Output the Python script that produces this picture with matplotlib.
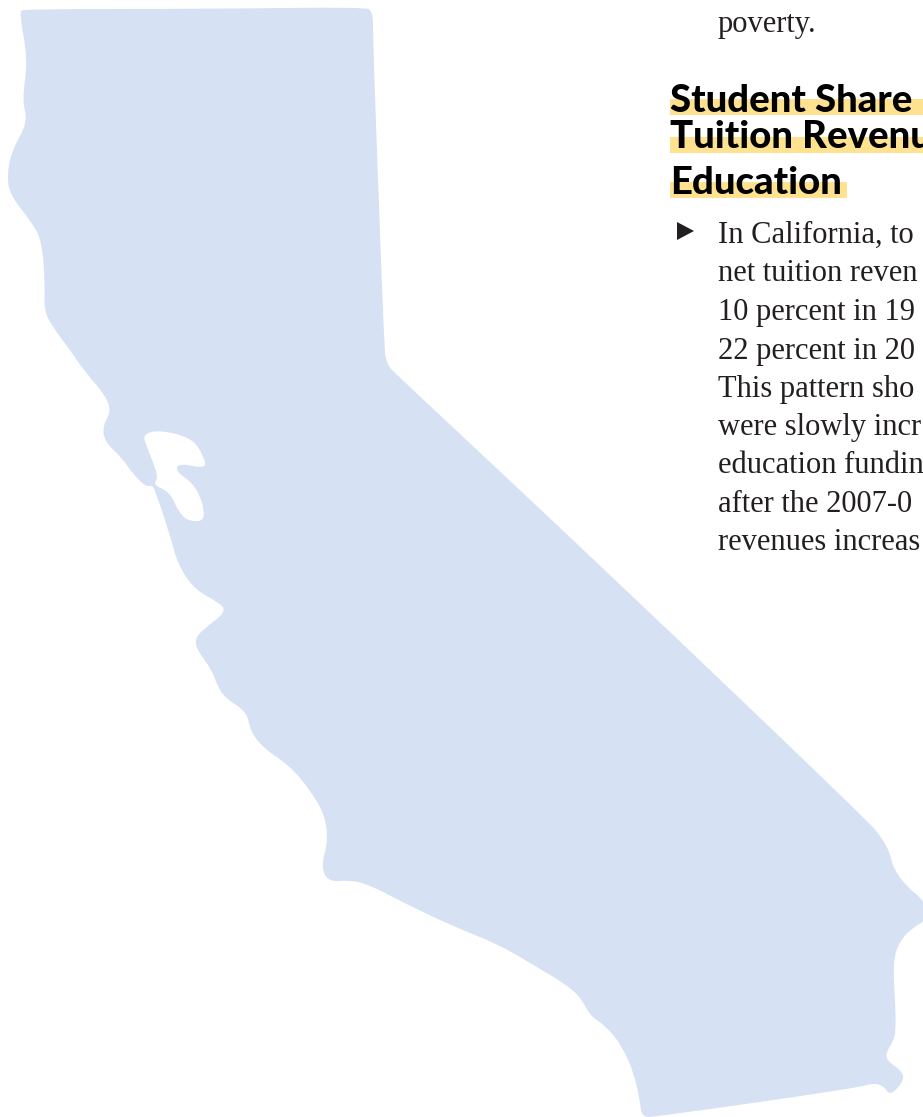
import matplotlib
matplotlib.use("Agg")
import matplotlib.pyplot as plt
from matplotlib.path import Path
from matplotlib.patches import PathPatch, Rectangle, Polygon

# state outline, in image pixels, clockwise from top left
outline = [
    (19, 12), (24, 9), (200, 9), (364, 7), (373, 11), (373, 40), (378, 180), (384, 340),
    (386, 364), (398, 376), (600, 565), (867, 820), (882, 838), (890, 853), (893, 868),
    (907, 887), (926, 902), (926, 921), (913, 927), (899, 942), (893, 962), (895, 1000),
    (896, 1030), (893, 1042), (886, 1052), (887, 1061), (902, 1071), (904, 1081),
    (890, 1096), (884, 1086), (873, 1083), (857, 1088), (655, 1117), (642, 1117),
    (640, 1102), (634, 1073), (622, 1046), (606, 1026), (590, 1016), (580, 996),
    (562, 982), (540, 969), (500, 945), (450, 925), (400, 901), (370, 885), (350, 880),
    (328, 882), (321, 866), (328, 842), (325, 815), (310, 790), (290, 766), (262, 747),
    (250, 730), (247, 712), (225, 698), (217, 685), (212, 670), (197, 650), (195, 638),
    (205, 628), (226, 612), (220, 603), (195, 590), (178, 565), (170, 535), (155, 490),
    (152, 485), (146, 487), (133, 474), (122, 458), (104, 441), (103, 425), (111, 412),
    (106, 396), (85, 372), (70, 350), (52, 326), (44, 310), (45, 285), (42, 240),
    (30, 220), (10, 195), (7, 175), (12, 150), (28, 122), (22, 100), (28, 60),
]

bay = [
    (143, 434), (160, 430), (192, 438), (203, 455), (207, 469), (179, 463), (175, 471),
    (197, 486), (207, 520), (190, 522), (179, 513), (170, 492), (153, 485), (159, 477),
    (146, 445),
]

heading_lines = ["Student Share", "Tuition Revenu", "Education"]
heading_baselines = [111.5, 148.5, 194.5]
highlight_spans = [(670, 923, 99, 115), (670, 923, 137, 153), (670, 847, 182, 198)]

body_lines = [
    "In California, to",
    "net tuition reven",
    "10 percent in 19",
    "22 percent in 20",
    "This pattern sho",
    "were slowly incr",
    "education fundin",
    "after the 2007-0",
    "revenues increas",
]
body_baselines = [243, 281, 320, 359, 397, 435, 473, 512, 550]

MAP_COLOR = "#d6e2f3"
HIGHLIGHT = "#fee290"
INK = "#231f20"
SERIF = ["Liberation Serif", "DejaVu Serif"]


def smooth_ring(pts):
    # closed quadratic spline: read points act as control points
    mid = lambda a, b: ((a[0] + b[0]) / 2, (a[1] + b[1]) / 2)
    verts = [mid(pts[-1], pts[0])]
    codes = [Path.MOVETO]
    for i, p in enumerate(pts):
        verts += [p, mid(p, pts[(i + 1) % len(pts)])]
        codes += [Path.CURVE3, Path.CURVE3]
    return verts, codes


fig = plt.figure(figsize=(9.23, 11.17), dpi=100)
ax = fig.add_axes([0, 0, 1, 1])
ax.set_xlim(0, 923)
ax.set_ylim(1117, 0)
ax.axis("off")

v1, c1 = smooth_ring(outline)
v2, c2 = smooth_ring(bay)
ax.add_patch(PathPatch(Path(v1, c1), fc=MAP_COLOR, ec="none"))
ax.add_patch(PathPatch(Path(v2, c2), fc="white", ec="none"))

for x0, x1, y0, y1 in highlight_spans:
    ax.add_patch(Rectangle((x0, y0), x1 - x0, y1 - y0, fc=HIGHLIGHT, ec="none"))

for line, y in zip(heading_lines, heading_baselines):
    ax.text(670, y, line, family="Lato", weight="black", fontsize=27.5, color="black",
            va="baseline", ha="left", clip_on=True)

ax.text(718, 32, "poverty.", family=SERIF, fontsize=22, color=INK, va="baseline")
for line, y in zip(body_lines, body_baselines):
    ax.text(718, y, line, family=SERIF, fontsize=22, color=INK, va="baseline",
            clip_on=True)

ax.add_patch(Polygon([(677, 222), (694, 231), (677, 240)], fc=INK, ec="none"))

fig.savefig("out.png", dpi=100)
